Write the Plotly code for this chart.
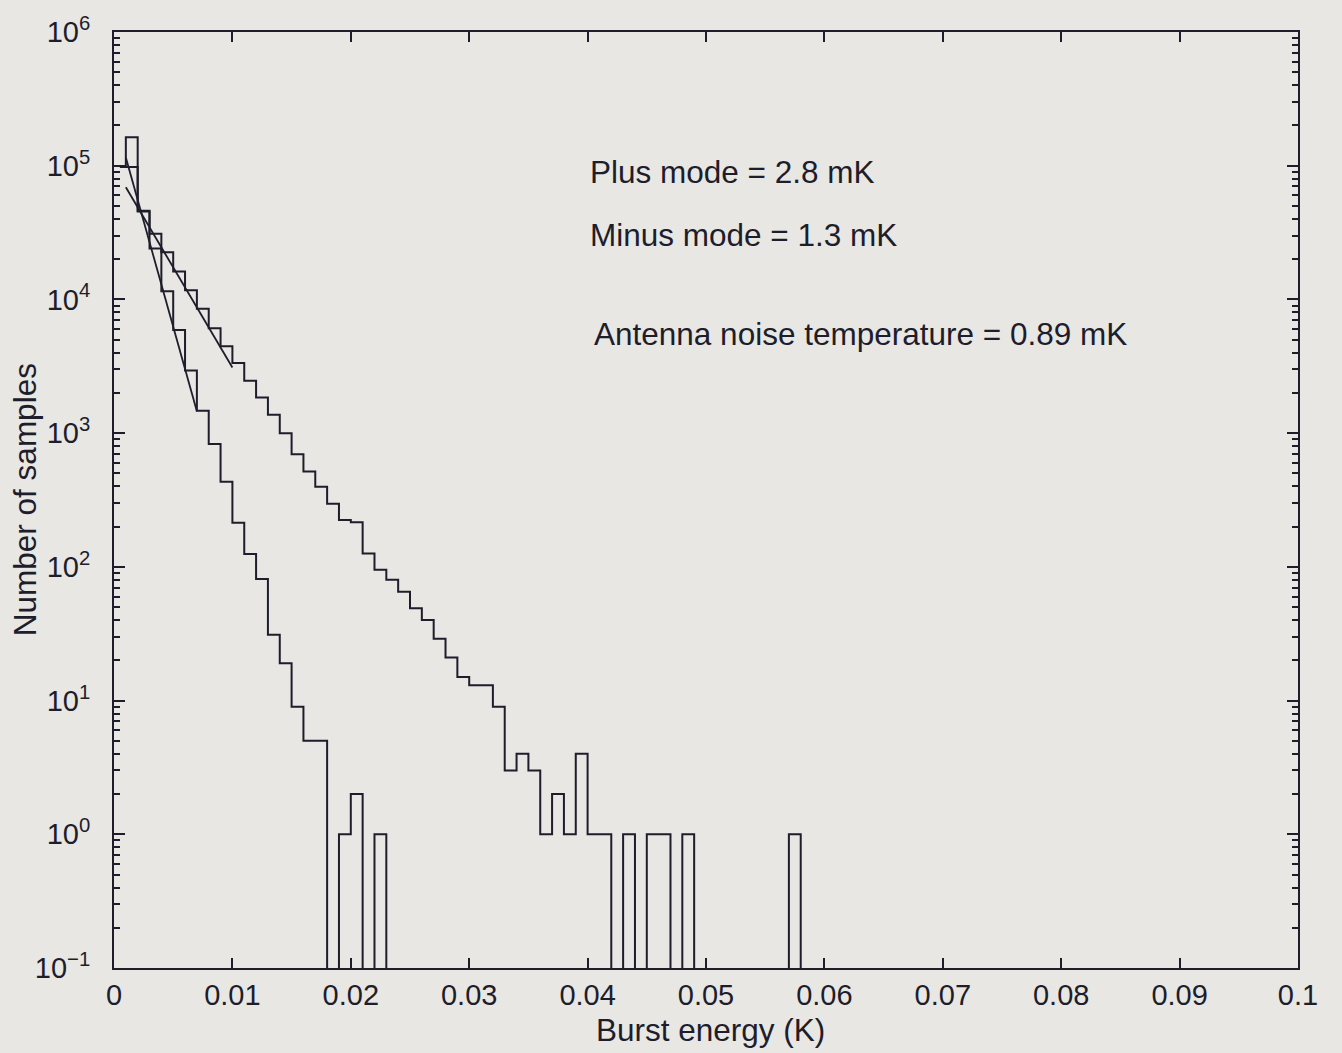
import plotly.graph_objects as go

# ---------------- data ----------------
bin_width = 0.001  # K
# counts per 1 mK bin, bin i spans [i*1mK, (i+1)*1mK]
plus_counts = [98000, 98000, 45500, 31000, 22500, 16200, 11700, 8500, 6100, 4460,
               3350, 2470, 1850, 1370, 1000, 695, 517, 398, 297, 224,
               216, 126, 95, 80, 65, 49, 40, 29, 21, 15,
               13, 13, 9, 3, 4, 3, 1, 2, 1, 4,
               1, 1, 0, 1, 0, 1, 1, 0, 1, 0,
               0, 0, 0, 0, 0, 0, 0, 1, 0]
minus_counts = [98000, 163000, 46000, 24000, 11500, 5900, 2940, 1470, 828, 433,
                214, 125, 81, 31, 19, 9, 5, 5, 0, 1,
                2, 0, 1, 0]

# exponential fits (end points)
plus_fit_x = [0.001, 0.010]
plus_fit_y = [69000, 3100]
minus_fit_x = [0.001, 0.007]
minus_fit_y = [115000, 1460]

x_ticks = [0, 0.01, 0.02, 0.03, 0.04, 0.05, 0.06, 0.07, 0.08, 0.09, 0.1]
x_ticktext = ["0", "0.01", "0.02", "0.03", "0.04", "0.05", "0.06", "0.07", "0.08", "0.09", "0.1"]
y_ticks = [0.1, 1, 10, 100, 1000, 10000, 100000, 1000000]
y_ticktext = ["10<sup>−1</sup>", "10<sup>0</sup>", "10<sup>1</sup>", "10<sup>2</sup>",
              "10<sup>3</sup>", "10<sup>4</sup>", "10<sup>5</sup>", "10<sup>6</sup>"]

labels = ["Plus mode = 2.8 mK", "Minus mode = 1.3 mK", "Antenna noise temperature = 0.89 mK"]

# ---------------- styling ----------------
INK = "#1d1d2b"
PAPER = "#e8e7e4"
FONT = "Liberation Sans, Arial, Helvetica, sans-serif"
FLOOR = 1e-3  # empty bins are drawn down off the bottom of the log axis


def centers(counts):
    return [bin_width * (i + 0.5) for i in range(len(counts))]


def shown(counts):
    return [c if c > 0 else FLOOR for c in counts]


fig = go.Figure()
fig.add_trace(go.Scatter(x=centers(plus_counts), y=shown(plus_counts), mode="lines",
                         line=dict(shape="hvh", color=INK, width=2), name="Plus mode"))
fig.add_trace(go.Scatter(x=centers(minus_counts), y=shown(minus_counts), mode="lines",
                         line=dict(shape="hvh", color=INK, width=2), name="Minus mode"))
fig.add_trace(go.Scatter(x=plus_fit_x, y=plus_fit_y, mode="lines",
                         line=dict(color=INK, width=1.8), name="Plus fit"))
fig.add_trace(go.Scatter(x=minus_fit_x, y=minus_fit_y, mode="lines",
                         line=dict(color=INK, width=1.8), name="Minus fit"))

minor_y = [k * 10.0 ** e for e in range(-1, 6) for k in range(2, 10)]

fig.update_xaxes(range=[0, 0.1], tickmode="array", tickvals=x_ticks, ticktext=x_ticktext,
                 showline=True, linecolor=INK, linewidth=2, mirror="ticks",
                 ticks="inside", ticklen=10, tickwidth=2, tickcolor=INK,
                 showgrid=False, zeroline=False, ticklabelstandoff=0,
                 tickfont=dict(family=FONT, size=29, color=INK))
fig.update_yaxes(type="log", range=[-1, 6], tickmode="array", tickvals=y_ticks, ticktext=y_ticktext,
                 showline=True, linecolor=INK, linewidth=2, mirror="ticks",
                 ticks="inside", ticklen=11, tickwidth=2, tickcolor=INK,
                 minor=dict(tickmode="array", tickvals=minor_y, ticks="inside", ticklen=6,
                            tickwidth=1.5, tickcolor=INK, showgrid=False),
                 showgrid=False, zeroline=False, ticklabelstandoff=16,
                 tickfont=dict(family=FONT, size=29, color=INK))

ann_font = dict(family=FONT, size=31.5, color=INK)
fig.add_annotation(x=0.0400, y=4.955, xref="x", yref="y", text=labels[0], showarrow=False,
                   xanchor="left", yanchor="middle", font=ann_font)
fig.add_annotation(x=0.0400, y=4.485, xref="x", yref="y", text=labels[1], showarrow=False,
                   xanchor="left", yanchor="middle", font=ann_font)
fig.add_annotation(x=0.0404, y=3.739, xref="x", yref="y", text=labels[2], showarrow=False,
                   xanchor="left", yanchor="middle", font=ann_font)

# axis titles
fig.add_annotation(x=0.504, y=-0.066, xref="paper", yref="paper", text="Burst energy (K)",
                   showarrow=False, xanchor="center", yanchor="middle", font=ann_font)
fig.add_annotation(x=-0.075, y=0.5, xref="paper", yref="paper", text="Number of samples",
                   showarrow=False, textangle=-90, xanchor="center", yanchor="middle", font=ann_font)

fig.update_layout(width=1342, height=1053, showlegend=False,
                  margin=dict(l=114, r=44, t=30, b=85),
                  paper_bgcolor=PAPER, plot_bgcolor=PAPER,
                  font=dict(family=FONT, color=INK))

fig.write_html("out.html")
